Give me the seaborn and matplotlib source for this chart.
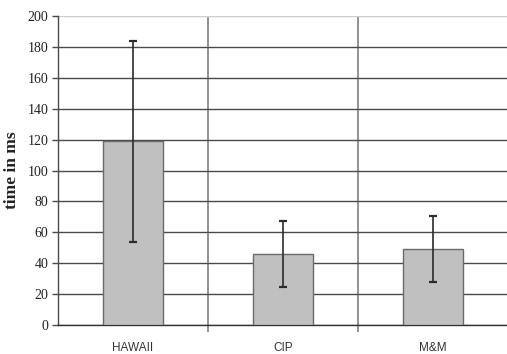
import matplotlib
matplotlib.use("Agg")
import matplotlib.pyplot as plt
import seaborn as sns
import numpy as np
import pandas as pd

# Response times per approach (mean and spread)
methods = ["HAWAII", "CIP", "M&M"]
mean_ms = [119, 46, 49]
err_ms = [65, 21.5, 21.3]
y_ticks = list(range(0, 201, 20))

sns.set_theme(style="white")
plt.rcParams["font.family"] = ["Liberation Serif", "DejaVu Serif"]

df = pd.DataFrame({"method": methods, "time": mean_ms})

fig = plt.figure(figsize=(5.07, 3.54), dpi=100)
ax = fig.add_axes([58 / 507, 29 / 354, 450 / 507, 309 / 354])

sns.barplot(data=df, x="method", y="time", ax=ax, width=0.4,
            color="#c0c0c0", edgecolor="#6a6a6a", linewidth=1.0,
            saturation=1, errorbar=None, zorder=3)
ax.errorbar(np.arange(len(methods)), mean_ms, yerr=err_ms, fmt="none",
            ecolor="#2b2b2b", elinewidth=1.2, capsize=3, capthick=1.6, zorder=4)

ax.set_xlim(-0.5, 2.5)
ax.set_ylim(0, 200)
ax.set_yticks(y_ticks)
ax.set_yticklabels([str(v) for v in y_ticks], fontsize=10, color="#222222")

# horizontal grid lines behind the bars
ax.set_axisbelow(True)
ax.yaxis.grid(True, color="#4a4a4a", linewidth=1.0)
ax.yaxis.get_gridlines()[-1].set_color("#cfcfcf")

# category separators drawn as minor x ticks
ax.set_xticks([0.5, 1.5], minor=True)
ax.xaxis.grid(True, which="minor", color="#8a8a8a", linewidth=1.3)
ax.xaxis.grid(False, which="major")
ax.tick_params(axis="x", which="minor", bottom=True, length=5, width=1.3,
               color="#8a8a8a")
ax.tick_params(axis="x", which="major", bottom=False, length=0, pad=12)
ax.tick_params(axis="y", left=True, length=4, width=1.0, color="#4a4a4a", pad=3)
for lbl in ax.get_xticklabels():
    lbl.set_family(["Liberation Sans", "DejaVu Sans"])
    lbl.set_fontsize(8.5)
    lbl.set_color("#333333")

ax.set_xlabel("")
ax.set_ylabel("time in ms", fontsize=12.5, fontweight="bold", color="#222222",
              labelpad=5)

for side in ["top", "right"]:
    ax.spines[side].set_visible(False)
ax.spines["left"].set_color("#4a4a4a")
ax.spines["left"].set_linewidth(1.0)
ax.spines["bottom"].set_color("#333333")
ax.spines["bottom"].set_linewidth(1.0)

fig.savefig("out.png", dpi=100)
